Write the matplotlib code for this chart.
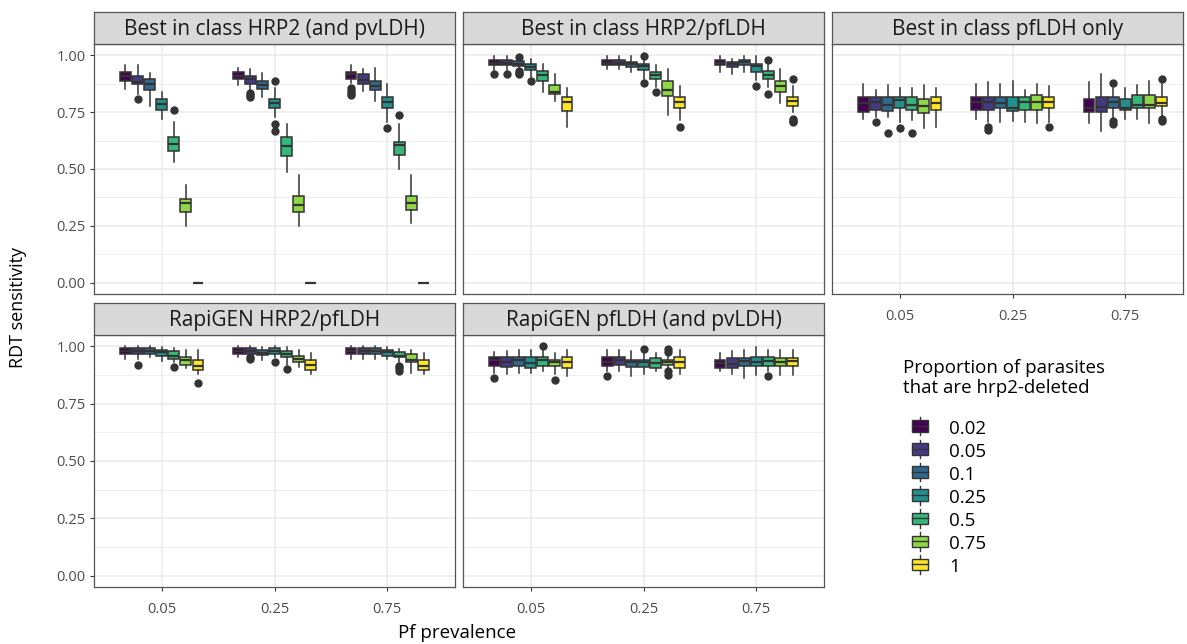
import matplotlib
matplotlib.use('Agg')
import matplotlib.pyplot as plt
from matplotlib.patches import Rectangle
from matplotlib.lines import Line2D
from matplotlib.legend_handler import HandlerBase

plt.rc('font', family=['Open Sans', 'DejaVu Sans'])

# categories
prevalence = ['0.05', '0.25', '0.75']
deletion = ['0.02', '0.05', '0.1', '0.25', '0.5', '0.75', '1']
colors = ['#440154', '#443A83', '#31688E', '#21908C', '#35B779', '#8FD744', '#FDE725']

# box stats per panel: rows = prevalence x deletion, cols = (lo, q1, med, q3, hi)
best_hrp2_pvldh = [
    (0.850, 0.888, 0.908, 0.927, 0.956), (0.830, 0.876, 0.883, 0.908, 0.956),
    (0.779, 0.847, 0.876, 0.898, 0.924), (0.719, 0.760, 0.785, 0.807, 0.837),
    (0.530, 0.578, 0.611, 0.639, 0.709), (0.250, 0.309, 0.352, 0.370, 0.429),
    (0.0, 0.0, 0.0, 0.0, 0.0),
    (0.869, 0.898, 0.910, 0.927, 0.946), (0.847, 0.876, 0.895, 0.908, 0.938),
    (0.818, 0.850, 0.869, 0.888, 0.924), (0.731, 0.767, 0.789, 0.808, 0.855),
    (0.488, 0.559, 0.603, 0.639, 0.697), (0.250, 0.309, 0.342, 0.381, 0.472),
    (0.0, 0.0, 0.0, 0.0, 0.0),
    (0.879, 0.898, 0.920, 0.927, 0.956), (0.843, 0.872, 0.891, 0.917, 0.938),
    (0.799, 0.847, 0.866, 0.888, 0.946), (0.709, 0.770, 0.793, 0.818, 0.876),
    (0.501, 0.560, 0.607, 0.619, 0.697), (0.262, 0.319, 0.352, 0.381, 0.472),
    (0.0, 0.0, 0.0, 0.0, 0.0),
]
best_hrp2_pvldh_out = [(0, 1, 0.808), (0, 4, 0.758), (1, 1, 0.833), (1, 1, 0.815), (1, 1, 0.825),
                       (1, 3, 0.886), (1, 3, 0.699), (1, 3, 0.669), (2, 0, 0.855), (2, 0, 0.845),
                       (2, 0, 0.835), (2, 0, 0.825), (2, 3, 0.680), (2, 4, 0.738)]

best_hrp2_pfldh = [
    (0.934, 0.956, 0.968, 0.978, 0.996), (0.934, 0.956, 0.968, 0.978, 0.996),
    (0.942, 0.953, 0.964, 0.974, 0.986), (0.906, 0.937, 0.949, 0.961, 0.986),
    (0.840, 0.888, 0.913, 0.930, 0.964), (0.799, 0.828, 0.837, 0.869, 0.916),
    (0.687, 0.757, 0.796, 0.818, 0.855),
    (0.938, 0.956, 0.968, 0.978, 0.996), (0.938, 0.956, 0.968, 0.978, 0.996),
    (0.928, 0.949, 0.961, 0.971, 0.996), (0.898, 0.934, 0.952, 0.961, 0.983),
    (0.862, 0.898, 0.913, 0.927, 0.956), (0.738, 0.821, 0.847, 0.888, 0.938),
    (0.716, 0.767, 0.793, 0.818, 0.866),
    (0.927, 0.956, 0.968, 0.978, 0.996), (0.920, 0.949, 0.961, 0.971, 0.986),
    (0.927, 0.956, 0.972, 0.978, 0.996), (0.891, 0.927, 0.952, 0.961, 0.996),
    (0.862, 0.898, 0.913, 0.930, 0.956), (0.790, 0.840, 0.866, 0.888, 0.938),
    (0.752, 0.779, 0.799, 0.818, 0.866),
]
best_hrp2_pfldh_out = [(0, 0, 0.917), (0, 1, 0.917), (0, 2, 0.995), (0, 2, 0.930), (0, 2, 0.924),
                       (0, 2, 0.917), (0, 3, 0.888), (1, 3, 0.997), (1, 3, 0.879), (1, 4, 0.837),
                       (1, 6, 0.687), (2, 3, 0.866), (2, 4, 0.978), (2, 4, 0.828), (2, 6, 0.898),
                       (2, 6, 0.720), (2, 6, 0.712), (2, 6, 0.705)]

best_pfldh_only = [
    (0.719, 0.752, 0.789, 0.818, 0.876), (0.731, 0.760, 0.793, 0.818, 0.847),
    (0.731, 0.757, 0.782, 0.815, 0.869), (0.709, 0.767, 0.803, 0.815, 0.857),
    (0.716, 0.760, 0.782, 0.815, 0.855), (0.680, 0.748, 0.777, 0.807, 0.869),
    (0.687, 0.760, 0.792, 0.818, 0.855),
    (0.719, 0.760, 0.796, 0.818, 0.876), (0.709, 0.760, 0.796, 0.815, 0.883),
    (0.709, 0.767, 0.789, 0.815, 0.876), (0.713, 0.757, 0.770, 0.815, 0.886),
    (0.709, 0.760, 0.793, 0.818, 0.847), (0.702, 0.760, 0.793, 0.825, 0.876),
    (0.709, 0.767, 0.793, 0.815, 0.866),
    (0.702, 0.750, 0.770, 0.808, 0.883), (0.669, 0.750, 0.773, 0.818, 0.916),
    (0.719, 0.767, 0.796, 0.818, 0.855), (0.719, 0.760, 0.770, 0.807, 0.855),
    (0.719, 0.770, 0.782, 0.825, 0.869), (0.702, 0.770, 0.782, 0.825, 0.886),
    (0.731, 0.779, 0.789, 0.818, 0.876),
]
best_pfldh_only_out = [(0, 1, 0.709), (0, 2, 0.658), (0, 3, 0.680), (0, 4, 0.658),
                       (1, 1, 0.683), (1, 1, 0.672), (1, 6, 0.687), (2, 2, 0.879),
                       (2, 2, 0.712), (2, 2, 0.700), (2, 6, 0.898), (2, 6, 0.720), (2, 6, 0.710)]

rapigen_hrp2_pfldh = [
    (0.945, 0.968, 0.981, 0.993, 1.000), (0.945, 0.968, 0.981, 0.993, 1.000),
    (0.952, 0.968, 0.981, 0.993, 1.000), (0.935, 0.959, 0.974, 0.986, 0.996),
    (0.930, 0.945, 0.959, 0.978, 0.993), (0.906, 0.920, 0.939, 0.954, 0.986),
    (0.881, 0.898, 0.913, 0.939, 0.986),
    (0.952, 0.968, 0.981, 0.993, 1.000), (0.962, 0.968, 0.981, 0.993, 1.000),
    (0.942, 0.964, 0.971, 0.986, 0.996), (0.952, 0.968, 0.981, 0.993, 1.000),
    (0.920, 0.956, 0.968, 0.978, 0.996), (0.910, 0.930, 0.945, 0.959, 0.986),
    (0.881, 0.898, 0.920, 0.942, 0.971),
    (0.945, 0.968, 0.981, 0.993, 1.000), (0.945, 0.968, 0.981, 0.993, 1.000),
    (0.945, 0.968, 0.981, 0.993, 1.000), (0.945, 0.959, 0.974, 0.986, 0.996),
    (0.930, 0.952, 0.959, 0.974, 0.990), (0.886, 0.930, 0.942, 0.967, 0.986),
    (0.881, 0.898, 0.916, 0.942, 0.971),
]
rapigen_hrp2_pfldh_out = [(0, 1, 0.920), (0, 4, 0.910), (0, 6, 0.840), (1, 1, 0.955), (1, 1, 0.945),
                          (1, 3, 0.930), (1, 4, 0.901), (2, 4, 0.916), (2, 4, 0.905), (2, 4, 0.893)]

rapigen_pfldh = [
    (0.886, 0.913, 0.942, 0.954, 0.976), (0.881, 0.910, 0.930, 0.952, 0.980),
    (0.886, 0.916, 0.942, 0.954, 0.986), (0.886, 0.906, 0.928, 0.954, 0.986),
    (0.891, 0.916, 0.942, 0.954, 0.983), (0.881, 0.913, 0.932, 0.942, 0.971),
    (0.872, 0.906, 0.932, 0.954, 0.986),
    (0.891, 0.913, 0.932, 0.954, 0.986), (0.891, 0.920, 0.942, 0.954, 0.986),
    (0.872, 0.910, 0.932, 0.942, 0.980), (0.881, 0.910, 0.932, 0.942, 0.986),
    (0.894, 0.906, 0.928, 0.949, 0.971), (0.894, 0.920, 0.932, 0.942, 0.980),
    (0.881, 0.906, 0.932, 0.954, 0.986),
    (0.891, 0.906, 0.928, 0.942, 0.971), (0.881, 0.906, 0.925, 0.949, 0.980),
    (0.862, 0.913, 0.935, 0.949, 0.986), (0.876, 0.913, 0.932, 0.954, 0.996),
    (0.891, 0.916, 0.935, 0.954, 0.986), (0.876, 0.913, 0.932, 0.949, 0.986),
    (0.876, 0.913, 0.935, 0.949, 0.986),
]
rapigen_pfldh_out = [(0, 0, 0.862), (0, 4, 1.000), (0, 5, 0.855), (1, 0, 0.869), (1, 3, 0.990),
                     (1, 5, 0.990), (1, 5, 0.977), (1, 5, 0.891), (1, 5, 0.877), (2, 4, 0.870)]

panels = [
    ('Best in class HRP2 (and pvLDH)', best_hrp2_pvldh, best_hrp2_pvldh_out),
    ('Best in class HRP2/pfLDH', best_hrp2_pfldh, best_hrp2_pfldh_out),
    ('Best in class pfLDH only', best_pfldh_only, best_pfldh_only_out),
    ('RapiGEN HRP2/pfLDH', rapigen_hrp2_pfldh, rapigen_hrp2_pfldh_out),
    ('RapiGEN pfLDH (and pvLDH)', rapigen_pfldh, rapigen_pfldh_out),
]

W, H = 1187, 644
fig = plt.figure(figsize=(W / 100, H / 100), dpi=100)

# panel boxes in pixels: left, top, right, bottom
boxes = [(94, 44, 455, 294), (463, 44, 824, 294), (832, 44, 1183, 294),
         (94, 335, 455, 587), (463, 335, 824, 587)]

edge = '#333333'
dodge = 0.75 / len(deletion)

for i, (title, stats, outs) in enumerate(panels):
    l, t, r, b = boxes[i]
    ax = fig.add_axes([l / W, 1 - b / H, (r - l) / W, (b - t) / H])
    sax = fig.add_axes([l / W, 1 - t / H, (r - l) / W, 32 / H])

    bxstats, pos = [], []
    for g in range(len(prevalence)):
        for k in range(len(deletion)):
            lo, q1, med, q3, hi = stats[g * len(deletion) + k]
            fl = [v for (gg, kk, v) in outs if gg == g and kk == k]
            bxstats.append(dict(whislo=lo, q1=q1, med=med, q3=q3, whishi=hi, fliers=fl))
            pos.append(g + 1 + (k - 3) * dodge)
    bp = ax.bxp(bxstats, positions=pos, widths=dodge * 0.9, patch_artist=True,
                showcaps=False, manage_ticks=False,
                boxprops=dict(edgecolor=edge, linewidth=1.1),
                medianprops=dict(color=edge, linewidth=1.6),
                whiskerprops=dict(color=edge, linewidth=1.1),
                flierprops=dict(marker='o', markersize=5, markerfacecolor=edge,
                                markeredgecolor=edge))
    for j, patch in enumerate(bp['boxes']):
        patch.set_facecolor(colors[j % len(deletion)])
        patch.set_zorder(2)

    ax.set_ylim(-0.05, 1.05)
    right = 3.6 if i != 2 else 0.4 + 3.2 * (r - l) / 361
    ax.set_xlim(0.4, right)
    ax.set_yticks([0, 0.25, 0.5, 0.75, 1.0])
    ax.set_yticks([0.125, 0.375, 0.625, 0.875], minor=True)
    ax.set_xticks([1, 2, 3])
    ax.grid(True, which='major', color='#EBEBEB', linewidth=1.1, zorder=0)
    ax.grid(True, which='minor', axis='y', color='#EBEBEB', linewidth=0.55, zorder=0)
    ax.set_axisbelow(True)
    ax.tick_params(which='minor', length=0)
    ax.tick_params(which='major', length=3, color=edge, width=0.8, labelsize=10.5,
                   labelcolor='#4D4D4D', pad=3)
    if i in (0, 3):
        ax.set_yticklabels(['0.00', '0.25', '0.50', '0.75', '1.00'])
    else:
        ax.tick_params(axis='y', length=0, labelleft=False)
    if i in (2, 3, 4):
        ax.set_xticklabels(prevalence)
        ax.tick_params(axis='x', pad=8)
    else:
        ax.tick_params(axis='x', length=0, labelbottom=False)
    for s in ax.spines.values():
        s.set_color('#555555')
        s.set_linewidth(0.9)

    sax.set_facecolor('#D9D9D9')
    sax.set_xticks([])
    sax.set_yticks([])
    for s in sax.spines.values():
        s.set_color('#555555')
        s.set_linewidth(0.9)
    sax.text(0.5, 0.45, title, ha='center', va='center', fontsize=15, color='#1A1A1A',
             transform=sax.transAxes)

fig.text(457 / W, 1 - 633 / H, 'Pf prevalence', ha='center', va='center', fontsize=13.5)
fig.text(18 / W, 1 - 308 / H, 'RDT sensitivity', ha='center', va='center', rotation=90,
         fontsize=13)
fig.text(903 / W, 1 - 378 / H, 'Proportion of parasites\nthat are hrp2-deleted',
         ha='left', va='center', fontsize=13.5, linespacing=1.2)


class BoxKey(HandlerBase):
    def create_artists(self, legend, orig, xd, yd, width, height, fontsize, trans):
        c = orig.get_facecolor()
        x0, w = xd + width * 0.12, width * 0.76
        y0, h = yd + height * 0.1, height * 0.8
        rect = Rectangle((x0, y0), w, h, facecolor=c, edgecolor=edge, linewidth=1.0,
                         transform=trans)
        med = Line2D([x0, x0 + w], [y0 + h / 2] * 2, color=edge, linewidth=1.0, transform=trans)
        wt = Line2D([xd + width / 2] * 2, [y0 + h, yd + height * 1.15], color=edge,
                    linewidth=1.0, transform=trans)
        wb = Line2D([xd + width / 2] * 2, [y0, yd - height * 0.15], color=edge,
                    linewidth=1.0, transform=trans)
        return [wt, wb, rect, med]


handles = [Rectangle((0, 0), 1, 1, facecolor=c) for c in colors]
leg = fig.legend(handles, deletion, handler_map={Rectangle: BoxKey()},
                 loc='upper left', bbox_to_anchor=(893 / W, 1 - 403 / H),
                 fontsize=13.5, frameon=False, handlelength=1.1, handleheight=0.8,
                 labelspacing=0.27, handletextpad=1.0)

plt.savefig('out.png', dpi=100)
